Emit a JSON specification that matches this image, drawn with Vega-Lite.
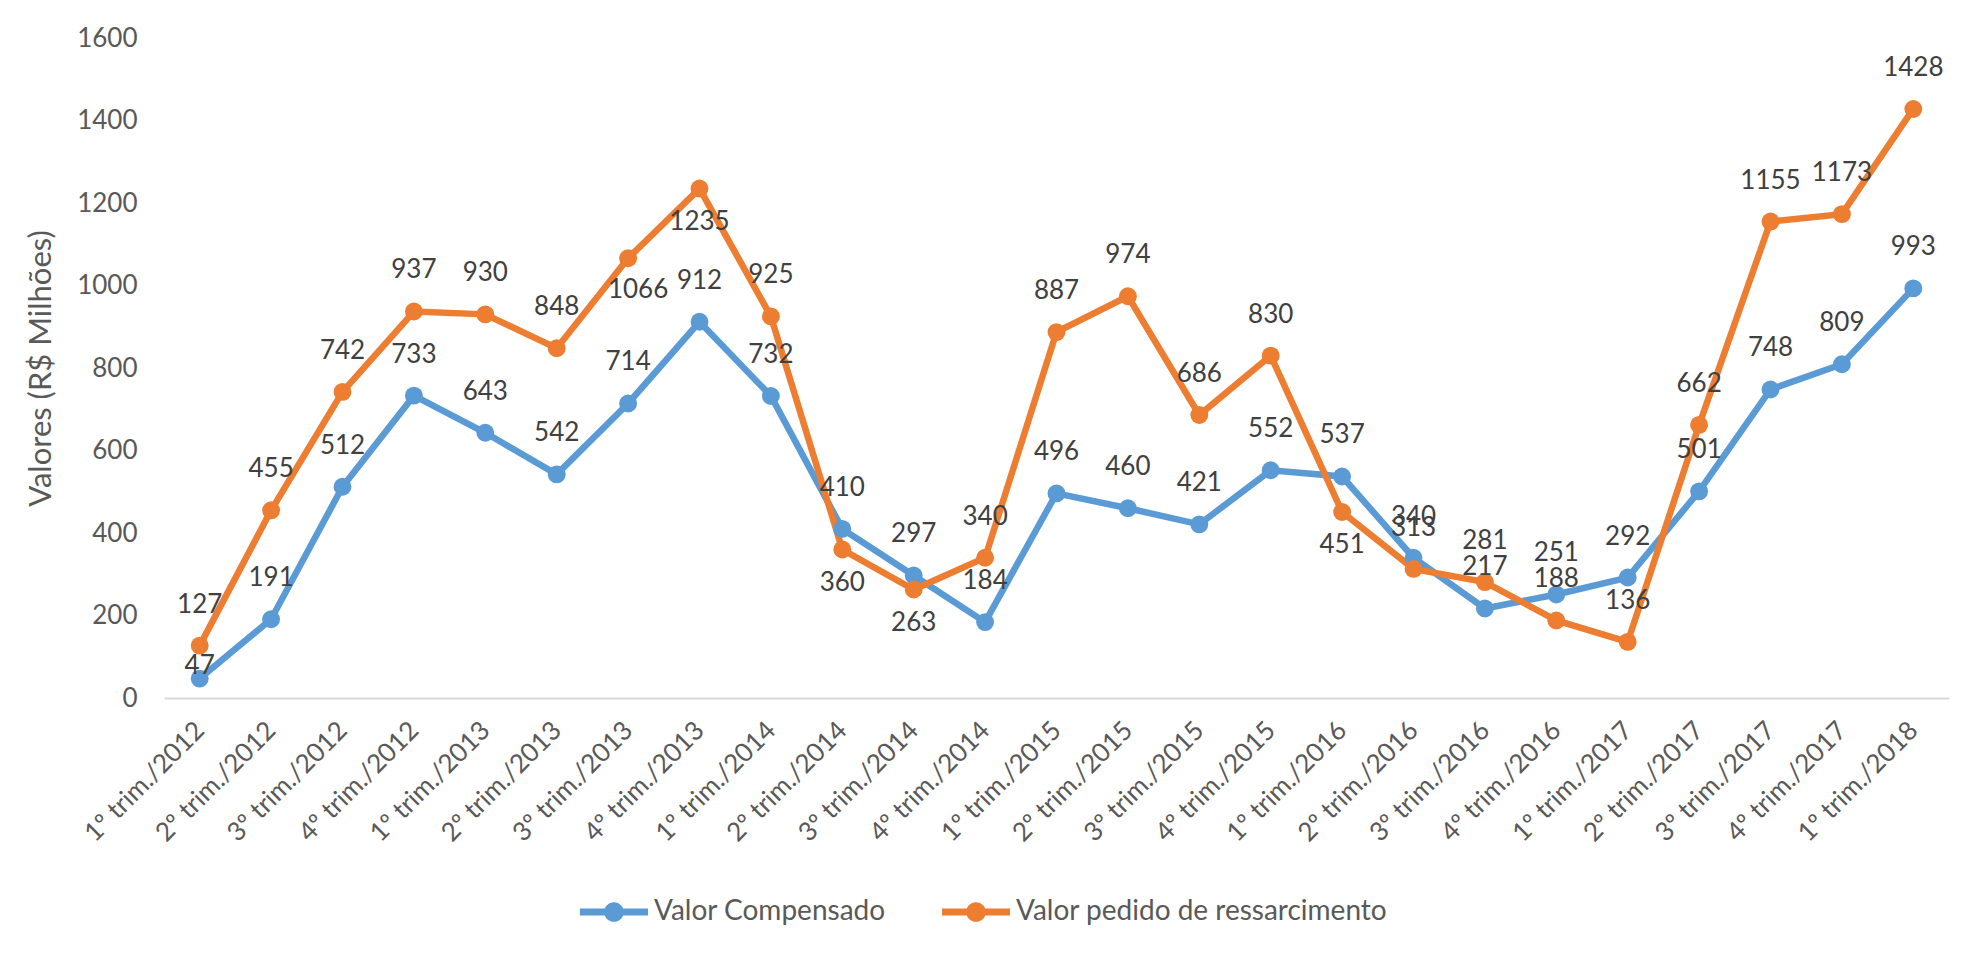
{
  "$schema": "https://vega.github.io/schema/vega-lite/v6.json",
  "width": 1785,
  "height": 660,
  "autosize": {"type": "none"},
  "padding": {"left": 164, "top": 38, "right": 38, "bottom": 261},
  "background": "white",
  "config": {
    "view": {"stroke": null},
    "font": "Lato"
  },
  "data": {
    "values": [
      {"quarter": "1º trim./2012", "series": "Valor Compensado", "value": 47},
      {"quarter": "2º trim./2012", "series": "Valor Compensado", "value": 191},
      {"quarter": "3º trim./2012", "series": "Valor Compensado", "value": 512},
      {"quarter": "4º trim./2012", "series": "Valor Compensado", "value": 733},
      {"quarter": "1º trim./2013", "series": "Valor Compensado", "value": 643},
      {"quarter": "2º trim./2013", "series": "Valor Compensado", "value": 542},
      {"quarter": "3º trim./2013", "series": "Valor Compensado", "value": 714},
      {"quarter": "4º trim./2013", "series": "Valor Compensado", "value": 912},
      {"quarter": "1º trim./2014", "series": "Valor Compensado", "value": 732},
      {"quarter": "2º trim./2014", "series": "Valor Compensado", "value": 410},
      {"quarter": "3º trim./2014", "series": "Valor Compensado", "value": 297},
      {"quarter": "4º trim./2014", "series": "Valor Compensado", "value": 184},
      {"quarter": "1º trim./2015", "series": "Valor Compensado", "value": 496},
      {"quarter": "2º trim./2015", "series": "Valor Compensado", "value": 460},
      {"quarter": "3º trim./2015", "series": "Valor Compensado", "value": 421},
      {"quarter": "4º trim./2015", "series": "Valor Compensado", "value": 552},
      {"quarter": "1º trim./2016", "series": "Valor Compensado", "value": 537},
      {"quarter": "2º trim./2016", "series": "Valor Compensado", "value": 340},
      {"quarter": "3º trim./2016", "series": "Valor Compensado", "value": 217},
      {"quarter": "4º trim./2016", "series": "Valor Compensado", "value": 251},
      {"quarter": "1º trim./2017", "series": "Valor Compensado", "value": 292},
      {"quarter": "2º trim./2017", "series": "Valor Compensado", "value": 501},
      {"quarter": "3º trim./2017", "series": "Valor Compensado", "value": 748},
      {"quarter": "4º trim./2017", "series": "Valor Compensado", "value": 809},
      {"quarter": "1º trim./2018", "series": "Valor Compensado", "value": 993},
      {"quarter": "1º trim./2012", "series": "Valor pedido de ressarcimento", "value": 127},
      {"quarter": "2º trim./2012", "series": "Valor pedido de ressarcimento", "value": 455},
      {"quarter": "3º trim./2012", "series": "Valor pedido de ressarcimento", "value": 742},
      {"quarter": "4º trim./2012", "series": "Valor pedido de ressarcimento", "value": 937},
      {"quarter": "1º trim./2013", "series": "Valor pedido de ressarcimento", "value": 930},
      {"quarter": "2º trim./2013", "series": "Valor pedido de ressarcimento", "value": 848},
      {"quarter": "3º trim./2013", "series": "Valor pedido de ressarcimento", "value": 1066},
      {"quarter": "4º trim./2013", "series": "Valor pedido de ressarcimento", "value": 1235},
      {"quarter": "1º trim./2014", "series": "Valor pedido de ressarcimento", "value": 925},
      {"quarter": "2º trim./2014", "series": "Valor pedido de ressarcimento", "value": 360},
      {"quarter": "3º trim./2014", "series": "Valor pedido de ressarcimento", "value": 263},
      {"quarter": "4º trim./2014", "series": "Valor pedido de ressarcimento", "value": 340},
      {"quarter": "1º trim./2015", "series": "Valor pedido de ressarcimento", "value": 887},
      {"quarter": "2º trim./2015", "series": "Valor pedido de ressarcimento", "value": 974},
      {"quarter": "3º trim./2015", "series": "Valor pedido de ressarcimento", "value": 686},
      {"quarter": "4º trim./2015", "series": "Valor pedido de ressarcimento", "value": 830},
      {"quarter": "1º trim./2016", "series": "Valor pedido de ressarcimento", "value": 451},
      {"quarter": "2º trim./2016", "series": "Valor pedido de ressarcimento", "value": 313},
      {"quarter": "3º trim./2016", "series": "Valor pedido de ressarcimento", "value": 281},
      {"quarter": "4º trim./2016", "series": "Valor pedido de ressarcimento", "value": 188},
      {"quarter": "1º trim./2017", "series": "Valor pedido de ressarcimento", "value": 136},
      {"quarter": "2º trim./2017", "series": "Valor pedido de ressarcimento", "value": 662},
      {"quarter": "3º trim./2017", "series": "Valor pedido de ressarcimento", "value": 1155},
      {"quarter": "4º trim./2017", "series": "Valor pedido de ressarcimento", "value": 1173},
      {"quarter": "1º trim./2018", "series": "Valor pedido de ressarcimento", "value": 1428}
    ]
  },
  "encoding": {
    "x": {
      "field": "quarter",
      "type": "ordinal",
      "sort": null,
      "scale": {"type": "point", "padding": 0.5},
      "axis": {
        "title": null,
        "labelAngle": -45,
        "labelAlign": "right",
        "labelBaseline": "middle",
        "labelFont": "Lato",
        "labelFontSize": 26,
        "labelColor": "#595959",
        "labelPadding": 28,
        "ticks": false,
        "tickSize": 0,
        "domainColor": "#D9D9D9",
        "domainWidth": 2,
        "grid": false,
        "labelOverlap": false
      }
    },
    "y": {
      "field": "value",
      "type": "quantitative",
      "scale": {"domain": [0, 1600], "nice": false},
      "axis": {
        "title": "Valores (R$ Milhões)",
        "titleFont": "Lato",
        "titleFontSize": 31,
        "titleFontWeight": "normal",
        "titleColor": "#595959",
        "titlePadding": 19,
        "values": [0, 200, 400, 600, 800, 1000, 1200, 1400, 1600],
        "format": "d",
        "labelFont": "Lato",
        "labelFontSize": 26,
        "labelColor": "#595959",
        "labelPadding": 27,
        "ticks": false,
        "tickSize": 0,
        "domain": false,
        "grid": false
      }
    }
  },
  "layer": [
    {
      "mark": {"type": "line", "strokeWidth": 6.5},
      "encoding": {
        "color": {
          "field": "series",
          "type": "nominal",
          "sort": null,
          "scale": {"domain": ["Valor Compensado", "Valor pedido de ressarcimento"], "range": ["#5B9BD5", "#ED7D31"]},
          "legend": {
            "orient": "none",
            "legendX": 416,
            "legendY": 840,
            "direction": "horizontal",
            "title": null,
            "symbolType": "M-1,-0.1L1,-0.1L1,0.1L-1,0.1Z M0.29,0A0.29,0.29,0,1,1,-0.29,0A0.29,0.29,0,1,1,0.29,0Z",
            "symbolSize": 4624,
            "symbolStrokeWidth": 0,
            "labelFont": "Lato",
            "labelFontSize": 28,
            "labelColor": "#595959",
            "labelOffset": 6,
            "columnPadding": 56,
            "labelLimit": 600,
            "encode": {"symbols": {"update": {"fill": {"scale": "color", "field": "value"}, "opacity": {"value": 1}, "strokeWidth": {"value": 0}}}}
          }
        }
      }
    },
    {
      "mark": {"type": "point", "filled": true, "size": 320, "opacity": 1},
      "encoding": {
        "color": {
          "field": "series",
          "type": "nominal",
          "sort": null,
          "scale": {"domain": ["Valor Compensado", "Valor pedido de ressarcimento"], "range": ["#5B9BD5", "#ED7D31"]},
          "legend": null
        }
      }
    },
    {
      "transform": [
        {"filter": "!(datum.series === 'Valor pedido de ressarcimento' && indexof(['3º trim./2013','4º trim./2013','2º trim./2014','3º trim./2014','1º trim./2016'], datum.quarter) >= 0) && !(datum.series === 'Valor Compensado' && datum.quarter === '1º trim./2012')"}
      ],
      "mark": {"type": "text", "dy": -41, "baseline": "middle", "align": "center", "font": "Lato", "fontSize": 26, "color": "#404040"},
      "encoding": {"text": {"field": "value", "type": "quantitative", "format": "d"}}
    },
    {
      "transform": [
        {"filter": "datum.series === 'Valor Compensado' && datum.quarter === '1º trim./2012'"}
      ],
      "mark": {"type": "text", "dy": -13, "baseline": "middle", "align": "center", "font": "Lato", "fontSize": 26, "color": "#404040"},
      "encoding": {"text": {"field": "value", "type": "quantitative", "format": "d"}}
    },
    {
      "transform": [
        {"filter": "datum.series === 'Valor pedido de ressarcimento' && indexof(['4º trim./2013','2º trim./2014','3º trim./2014','1º trim./2016'], datum.quarter) >= 0"}
      ],
      "mark": {"type": "text", "dy": 33, "baseline": "middle", "align": "center", "font": "Lato", "fontSize": 26, "color": "#404040"},
      "encoding": {"text": {"field": "value", "type": "quantitative", "format": "d"}}
    },
    {
      "transform": [
        {"filter": "datum.series === 'Valor pedido de ressarcimento' && datum.quarter === '3º trim./2013'"}
      ],
      "mark": {"type": "text", "dy": 32, "dx": 10, "baseline": "middle", "align": "center", "font": "Lato", "fontSize": 26, "color": "#404040"},
      "encoding": {"text": {"field": "value", "type": "quantitative", "format": "d"}}
    }
  ]
}
